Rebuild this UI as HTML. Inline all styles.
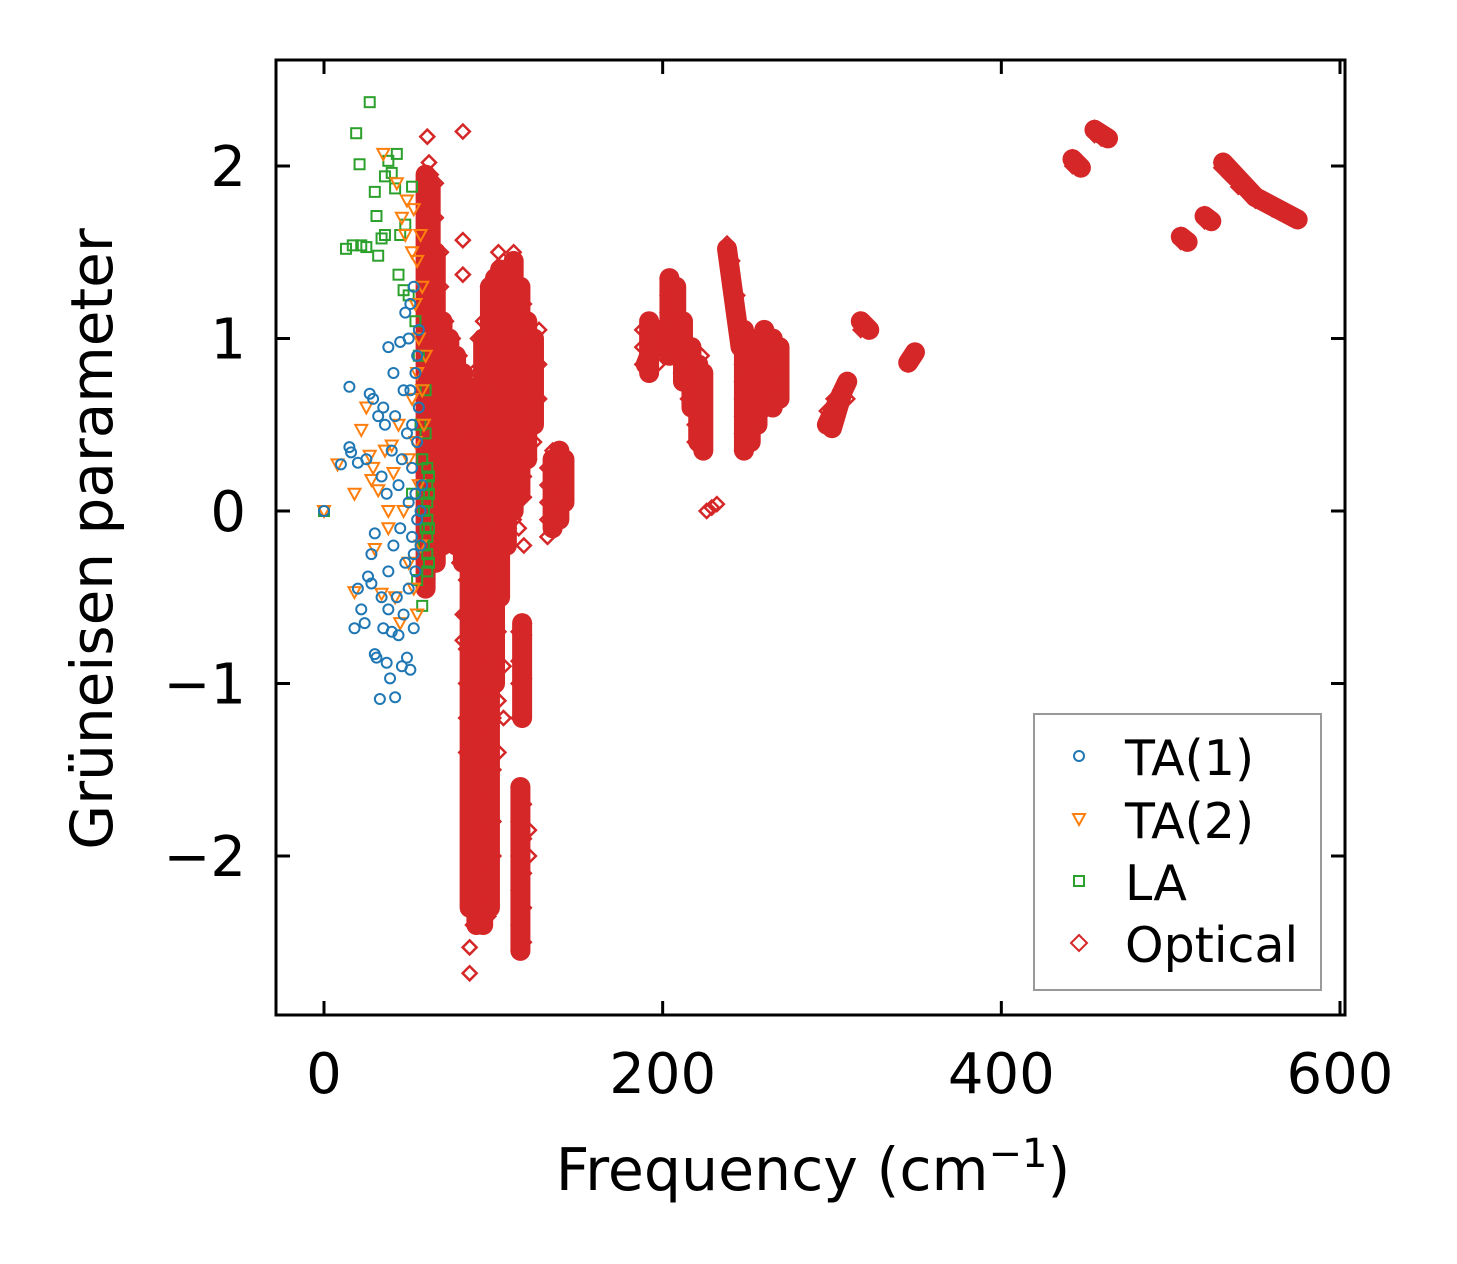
<!DOCTYPE html>
<html><head><meta charset="utf-8"><style>
html,body{margin:0;padding:0;background:#fff;}
svg{display:block;font-family:"DejaVu Sans","Liberation Sans",sans-serif;}
</style></head><body>
<svg id="chart" width="1457" height="1264" viewBox="0 0 1457 1264">
<rect width="1457" height="1264" fill="#fff"/>
<g id="marks"></g>
<rect x="276" y="60" width="1069" height="955" fill="none" stroke="#000" stroke-width="3"/>
<g id="axes"></g>
<text x="813" y="1190" text-anchor="middle" font-size="58.5">Frequency (cm<tspan dy="-23" font-size="40">−1</tspan><tspan dy="23">)</tspan></text>
<text transform="translate(112,539) rotate(-90)" text-anchor="middle" font-size="58">Grüneisen parameter</text>
<g>
<rect x="1034" y="714" width="287" height="276" fill="#fff" stroke="#999" stroke-width="2"/>
<g><circle cx="1079" cy="756" r="5" fill="none" stroke="#1f77b4" stroke-width="2"/><text x="1125" y="775" font-size="49">TA(1)</text></g>
<g><path d="M1073,814 L1085,814 L1079,825 Z" fill="none" stroke="#ff7f0e" stroke-width="2"/><text x="1125" y="838" font-size="49">TA(2)</text></g>
<g><rect x="1074" y="876" width="10" height="10" fill="none" stroke="#2ca02c" stroke-width="2"/><text x="1125" y="900" font-size="49">LA</text></g>
<g><path d="M1079,935 L1087,943 L1079,951 L1071,943 Z" fill="none" stroke="#d62728" stroke-width="2"/><text x="1125" y="962" font-size="49">Optical</text></g>
</g>
</svg>
<script>
const xTicks=[0,200,400,600];
const yTicks=[-2,-1,0,1,2];
const yTickLabels=["−2","−1","0","1","2"];
const ta1=[[0,0],[10,0.27],[15,0.72],[15,0.37],[16,0.34],[18,-0.68],[20,-0.45],[20,0.28],[22,-0.57],[24,-0.65],[25,0.3],[26,-0.38],[27,0.68],[28,-0.42],[28,-0.25],[29,0.65],[30,-0.83],[30,-0.13],[31,-0.85],[32,0.55],[33,-1.09],[34,-0.5],[34,0.2],[35,-0.68],[35,0.6],[36,0.5],[37,-0.88],[37,0.1],[38,-0.57],[38,0.95],[38,-0.35],[39,-0.97],[40,-0.7],[40,0.35],[41,-0.2],[41,0.8],[42,-1.08],[42,0.55],[43,-0.5],[44,-0.72],[44,0.15],[45,0.98],[45,-0.1],[46,-0.9],[46,0.3],[47,0.7],[47,-0.6],[48,1.15],[48,-0.3],[49,-0.85],[49,0.45],[50,1.0],[50,0.05],[50,-0.45],[51,-0.92],[51,1.2],[52,0.25],[52,-0.15],[53,-0.68],[53,1.3],[54,0.8],[54,-0.35],[55,0.4],[55,-0.05],[56,0.6],[56,1.05],[57,-0.2],[57,0.0],[58,0.15],[52,0.5],[53,-0.25],[54,0.1],[51,0.7],[55,0.9]];
const ta2=[[0,0],[8,0.27],[18,0.1],[18,-0.47],[22,0.47],[25,0.6],[27,0.32],[28,0.18],[29,0.25],[30,-0.22],[32,0.12],[34,-0.48],[35,2.07],[36,0.35],[38,0.0],[38,-0.1],[40,0.38],[41,0.22],[42,-0.5],[43,1.9],[44,0.5],[45,-0.65],[46,1.7],[47,0.0],[48,1.6],[49,1.8],[50,0.3],[50,-0.3],[52,1.5],[52,0.65],[53,1.75],[53,-0.45],[54,1.2],[54,0.4],[55,1.45],[55,0.8],[55,-0.6],[56,1.0],[56,0.15],[57,1.6],[57,-0.2],[58,0.7],[58,1.3],[59,0.5],[60,0.9]];
const la=[[0,0],[13,1.52],[17,1.54],[19,2.19],[21,2.01],[22,1.54],[25,1.53],[27,2.37],[30,1.85],[31,1.71],[32,1.48],[34,1.58],[36,1.6],[36,1.94],[38,2.03],[40,1.96],[42,1.87],[43,2.07],[44,1.37],[45,1.6],[47,1.28],[48,1.66],[50,1.25],[52,1.88],[52,0.1],[54,1.1],[55,-0.4],[56,0.9],[57,0.5],[58,-0.55],[58,0.3],[60,0.45],[60,0.7],[61,-0.35],[61,-0.25],[61,-0.15],[61,-0.05],[61,0.05],[61,0.15],[61,0.25],[62,-0.3],[62,-0.1],[62,0.1],[62,0.2],[59,-0.2],[59,0.0],[59,0.1],[60,-0.1]];
// dense optical clusters: [x1, y1, x2, y2] extent of heavily overlapping points
const opticalBands=[[60,-0.45,60,1.95],[63,-0.3,63,1.9],[66,-0.3,66,1.5],[70,-0.2,70,1.1],[74,-0.1,74,1.0],[78,-0.2,78,0.9],[82,-0.3,82,0.8],
[86,-2.3,86,0.4],[90,-2.4,90,0.7],[94,-2.4,94,1.0],[98,-2.3,98,1.3],[101,-1.0,101,1.35],[104,-0.5,104,1.4],[108,-0.2,108,1.4],[112,0,112,1.45],[116,0.1,116,1.3],[120,0.3,120,1.1],[124,0.5,124,1.0],
[116,-2.55,116,-1.6],[117,-1.2,117,-0.65],
[135,-0.1,135,0.3],[139,-0.05,139,0.35],[142,0.05,142,0.3],
[190,0.85,198,1.05],[192,0.8,192,1.1],[204,0.9,204,1.35],[208,0.9,208,1.3],[212,0.75,212,1.1],[217,0.6,217,0.95],[221,0.4,221,0.85],[224,0.35,224,0.8],
[238,1.52,246,0.95],[248,0.35,248,1.05],[252,0.4,252,1.0],[256,0.5,256,0.95],[260,0.6,260,1.05],[265,0.6,265,1.0],[269,0.65,269,0.95],
[297,0.5,309,0.75],[300,0.48,306,0.68],[317,1.1,322,1.05],[345,0.86,349,0.92],
[442,2.04,447,1.99],[455,2.21,463,2.16],[506,1.59,510,1.56],[520,1.71,524,1.68],[531,2.02,550,1.82],[550,1.82,575,1.69]];
const opticalX=[60,61,62,63,66,69,72,76,80,82,84,86,88,91,94,97,100,103,106,109,112,115,118,121,124,127,132,135,138,141,188,192,197,200,203,207,211,215,219,223,226,229,232,238,241,244,247,251,255,259,264,268,297,301,305,309,317,321,345,349,442,446,455,459,463,506,509,520,524,530,535,540,545,550,555,560,565,570,574];
const opticalY=[
[1.8,1.6,1.4,1.2,1.0,0.8,0.6,0.4,0.2,0.0,-0.2,-0.45],[2.17],[2.02],
[1.95,1.75,1.55,1.35,1.15,0.95,0.75,0.55,0.35,0.15,-0.05,-0.25],
[1.9,1.7,1.5,1.3,1.1,0.9,0.7,0.5,0.3,0.1,-0.1,-0.3],
[1.5,1.3,1.1,0.9,0.7,0.5,0.3,0.1,-0.1],
[1.1,0.9,0.7,0.5,0.3,0.1,-0.15],
[1.0,0.8,0.6,0.4,0.2,0.0,-0.2],
[0.9,0.7,0.5,0.3,0.1,-0.1,-0.3],
[1.57,1.37,2.2,0.45,-0.6,-0.75],
[0.6,0.4,0.2,0.0,-0.2,-0.4,-0.6,-0.8,-1.0,-1.2,-1.4],
[-0.9,-1.1,-1.3,-1.5,-1.7,-1.9,-2.1,-2.3,-2.53,-2.68,0.1,0.3,-0.1,-0.3,-0.5,-0.7],
[0.8,0.6,0.4,0.2,0.0,-0.2,-0.4,-0.6,-0.8,-1.0,-1.2,-1.4,-1.6,-1.8,-2.0,-2.2,-2.4],
[1.0,0.8,0.6,0.4,0.2,0.0,-0.2,-0.4,-0.6,-0.8,-1.0,-1.2,-1.4,-1.6,-1.8,-2.0,-2.2,-2.4],
[1.1,0.9,0.7,0.5,0.3,0.1,-0.1,-0.3,-0.5,-0.7,-0.9,-1.1,-1.3,-1.5,-1.7,-1.9,-2.1,-2.3],
[1.3,1.1,0.9,0.7,0.5,0.3,0.1,-0.1,-0.3,-0.5,-0.7,-0.9,-1.1,-1.3,-1.5,-1.7,-1.9,-2.1,-2.35],
[1.35,1.15,0.95,0.75,0.55,0.35,0.15,-0.05,-0.25,-0.6,-0.8,-1.2,-1.5,-1.8,-2.0],
[1.5,1.3,1.1,0.9,0.7,0.5,0.3,0.1,-0.1,-0.4,-0.7,-1.1,-1.4],
[1.45,1.25,1.05,0.85,0.65,0.45,0.25,0.05,-0.2,-0.9,-1.2],
[1.4,1.2,1.0,0.8,0.6,0.4,0.2,0.0,-0.1],
[1.5,1.3,1.1,0.9,0.7,0.5,0.3,0.1,-0.05],
[1.3,1.1,0.9,0.7,0.5,0.3,0.1,-0.1,-0.7,-0.87,-1.0,-1.2,-1.6,-1.8,-2.0,-2.2,-2.4,-2.55],
[1.2,1.0,0.8,0.6,0.4,0.2,0.08,-0.2,-0.65,-0.72,-0.97,-1.7,-1.9,-2.1,-2.3,-2.5],
[1.1,0.9,0.7,0.5,0.3,-1.85,-2.0],
[1.0,0.8,0.6,0.4],[1.05,0.85,0.65],
[0.25,0.15,0.05,-0.05,-0.15],[0.35,0.25,0.15,0.05,-0.05],[0.35,0.25,0.15,0.05,0.0],[0.3,0.2,0.1],
[1.05,0.95,0.85],[1.1,1.0,0.9,0.8],[1.05,0.95,0.85],[1.0,0.9],
[1.35,1.25,1.15,1.05,0.95],[1.3,1.2,1.1,1.0,0.9],[1.1,1.0,0.9,0.8],[0.95,0.85,0.75,0.65],[0.8,0.7,0.6,0.5,0.4],[0.9,0.75,0.6,0.45,0.35],
[0.0],[0.02],[0.04],
[1.55,1.48],[1.45,1.35],[1.25,1.15],
[1.05,0.95,0.85,0.75,0.65,0.55,0.45,0.35],[1.0,0.9,0.8,0.7,0.6,0.5,0.4],[0.95,0.85,0.75,0.65,0.55],[1.05,0.95,0.85,0.75,0.65],[1.0,0.9,0.8,0.7,0.6],[0.95,0.85,0.75,0.65],
[0.5,0.58],[0.55,0.65],[0.7,0.62],[0.75,0.65],[1.1,1.05],[1.06],[0.85,0.88],[0.92],
[2.05,2.0],[2.02,1.99],[2.22,2.18],[2.2,2.16],[2.17],
[1.6,1.56],[1.58],[1.72,1.68],[1.7],
[2.02,1.99],[1.97,1.94],[1.92,1.88],[1.85],[1.82,1.8],[1.79],[1.77,1.75],[1.74],[1.72,1.7],[1.69]];

const NS="http://www.w3.org/2000/svg";
const sx=v=>324+v*(1340-324)/600;
const sy=v=>511-v*172.5;
const marks=document.getElementById('marks');
const axes=document.getElementById('axes');
function mk(tag,attrs,parent){const e=document.createElementNS(NS,tag);for(const k in attrs)e.setAttribute(k,attrs[k]);parent.appendChild(e);return e;}

xTicks.forEach(t=>{
  const x=sx(t);
  const a=mk('line',{x1:x,x2:x,y1:1015,y2:1001,stroke:'#000','stroke-width':3},axes);
  
  
  const b=mk('line',{x1:x,x2:x,y1:60,y2:74,stroke:'#000','stroke-width':3},axes);
  
  
  const l=mk('text',{x:x,y:1093,'text-anchor':'middle','font-size':56},axes);
  l.textContent=t;
  
  
});
yTicks.forEach((t,i)=>{
  const y=sy(t);
  const a=mk('line',{x1:276,x2:290,y1:y,y2:y,stroke:'#000','stroke-width':3},axes);
  
  
  const b=mk('line',{x1:1331,x2:1345,y1:y,y2:y,stroke:'#000','stroke-width':3},axes);
  
  
  const l=mk('text',{x:246,y:y+20,'text-anchor':'end','font-size':56},axes);
  l.textContent=yTickLabels[i];
  
  
});

opticalBands.forEach(([x1,y1,x2,y2])=>{
  const b=mk('line',{x1:sx(x1),y1:sy(y1),x2:sx(x2),y2:sy(y2),stroke:'#d62728','stroke-width':20,'stroke-linecap':'round'},marks);
  
  
});
function diamond(x,y){return `M${x},${y-7} L${x+7},${y} L${x},${y+7} L${x-7},${y} Z`;}
opticalX.forEach((xv,i)=>{
  opticalY[i].forEach(yv=>{
    const p=mk('path',{d:diamond(sx(xv),sy(yv)),fill:'none',stroke:'#d62728','stroke-width':2.5},marks);
    
    
  });
});
la.forEach(([xv,yv])=>{
  const p=mk('rect',{x:sx(xv)-5,y:sy(yv)-5,width:10,height:10,fill:'none',stroke:'#2ca02c','stroke-width':2},marks);
  
  
});
ta2.forEach(([xv,yv])=>{
  const x=sx(xv),y=sy(yv);
  const p=mk('path',{d:`M${x-6},${y-5} L${x+6},${y-5} L${x},${y+6} Z`,fill:'none',stroke:'#ff7f0e','stroke-width':2},marks);
  
  
});
ta1.forEach(([xv,yv])=>{
  const p=mk('circle',{cx:sx(xv),cy:sy(yv),r:5,fill:'none',stroke:'#1f77b4','stroke-width':2},marks);
  
  
});
</script>
</body></html>
